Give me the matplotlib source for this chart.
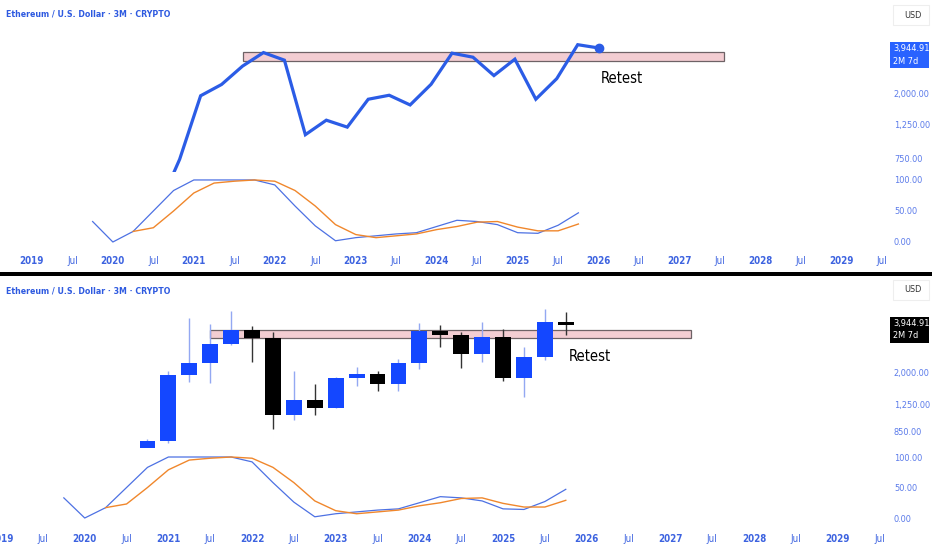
import matplotlib
matplotlib.use("Agg")
import matplotlib.pyplot as plt
from matplotlib.patches import Rectangle

plt.rcParams['font.family'] = ['DejaVu Sans']
plt.rcParams['font.stretch'] = 'condensed'

# quarterly ETH/USD (bar positions in decimal years, quarter starts)
q_price = [2020.5, 2020.75, 2021.0, 2021.25, 2021.5, 2021.75, 2022.0, 2022.25, 2022.5, 2022.75,
           2023.0, 2023.25, 2023.5, 2023.75, 2024.0, 2024.25, 2024.5, 2024.75, 2025.0, 2025.25,
           2025.5, 2025.75]
opens  = [226, 359, 737, 1919, 2275, 3000, 3680, 3282, 1067, 1328, 1196, 1821, 1934, 1671, 2281,
          3647, 3433, 2602, 3332, 1822, 2485, 4145]
highs  = [489, 755, 2040, 4380, 4030, 4870, 3880, 3580, 2030, 1680, 1860, 2140, 2030, 2410, 4090,
          3970, 3560, 4108, 3745, 2880, 4955, 4760]
lows   = [308, 368, 715, 1720, 1717, 2950, 2300, 880, 997, 1075, 1190, 1626, 1530, 1520, 2100,
          2865, 2110, 2310, 1755, 1385, 2370, 3430]
closes = [359, 737, 1919, 2275, 3000, 3680, 3282, 1067, 1328, 1196, 1821, 1934, 1671, 2281, 3647,
          3433, 2602, 3332, 1822, 2485, 4145, 3944.91]

# stochastic oscillator (%K from Q4 2019, %D from Q2 2020)
q_k = [2019.75 + 0.25 * i for i in range(25)]
k_vals = [33, 0, 17, 50, 83, 100, 100, 100, 100, 92, 58, 26, 2, 7, 10, 13, 15, 25, 35, 33, 28, 15,
          14, 27, 47]
q_d = q_k[2:]
d_vals = [17, 23, 50, 79, 95, 98, 100, 98, 83, 58, 28, 12, 7, 10, 13, 20, 25, 32, 33, 24, 18, 18, 29]

zone_lo, zone_hi = 3255, 3690
zone_x = (2021.5, 2027.25)

price_ticks = [[750, 1250, 2000], [850, 1250, 2000]]
price_labels = [["750.00", "1,250.00", "2,000.00"], ["850.00", "1,250.00", "2,000.00"]]
osc_ticks = [0, 50, 100]
osc_labels = ["0.00", "50.00", "100.00"]
title = "Ethereum / U.S. Dollar · 3M · CRYPTO"
last_label = ["3,944.91", "2M 7d"]

W, H = 932, 550
BLUE_LINE = "#2B5CE6"
UP = "#1447FF"
UP_WICK = "#93A8F2"
TXT_BLUE = "#2E5AE0"
AX_BLUE = "#5B7BEA"
K_COL = "#4D71E3"
D_COL = "#F0872C"

fig = plt.figure(figsize=(W / 100, H / 100), dpi=100)
fig.patch.set_facecolor("white")


def px_axes(x0, y0, x1, y1):
    return fig.add_axes([x0 / W, 1 - y1 / H, (x1 - x0) / W, (y1 - y0) / H])


def fig_rect(x0, y0, x1, y1, **kw):
    fig.patches.append(Rectangle((x0 / W, 1 - y1 / H), (x1 - x0) / W, (y1 - y0) / H,
                                 transform=fig.transFigure, figure=fig, **kw))


def clean(ax):
    for s in ax.spines.values():
        s.set_visible(False)
    ax.set_facecolor("none")
    ax.tick_params(length=0)


panes = [
    dict(off=0, price=(22, 172), plim=(608, 5836), osc=(175, 250), olim=(-12.9, 108),
         xlim=(2018.606, 2029.131), box="#2962FF", style="line", pad=4.5),
    dict(off=275, price=(300, 448), plim=(665, 5680), osc=(452, 526), olim=(-13.1, 108.2),
         xlim=(2018.987, 2029.53), box="#000000", style="candle", pad=5.5),
]

for i, p in enumerate(panes):
    axp = px_axes(0, p["price"][0], 882, p["price"][1])
    axo = px_axes(0, p["osc"][0], 882, p["osc"][1])
    for ax in (axp, axo):
        clean(ax)
        ax.set_xlim(*p["xlim"])
    axp.set_yscale("log")
    axp.set_ylim(*p["plim"])
    axo.set_ylim(*p["olim"])

    # resistance zone
    axp.add_patch(Rectangle((zone_x[0], zone_lo), zone_x[1] - zone_x[0], zone_hi - zone_lo,
                            facecolor="#F3CDD2", edgecolor="#6E6266", lw=0.9, zorder=1))

    if p["style"] == "line":
        axp.plot(q_price, closes, color=BLUE_LINE, lw=2.3, zorder=3, solid_joinstyle="miter")
        axp.plot(q_price[-1], closes[-1], "o", color=BLUE_LINE, ms=6, zorder=4)
    else:
        for x, o, h, l, c in zip(q_price, opens, highs, lows, closes):
            up = c >= o
            axp.vlines(x, l, h, color=UP_WICK if up else "#333333", lw=1.0, zorder=2)
            axp.bar(x, c - o, bottom=o, width=0.19, color=UP if up else "black", zorder=3)

    txt_y = 2508 if i == 0 else 2522
    axp.text(2025.77 if i == 0 else 2025.78, txt_y, "Retest", fontsize=10.5, color="black",
             va="center", ha="left", zorder=5)

    axo.plot(q_k, k_vals, color=K_COL, lw=0.9)
    axo.plot(q_d, d_vals, color=D_COL, lw=1.0)

    # right price scale
    axp.yaxis.tick_right()
    axp.set_yticks(price_ticks[i])
    axp.set_yticklabels(price_labels[i])
    axp.minorticks_off()
    axo.yaxis.tick_right()
    axo.set_yticks(osc_ticks)
    axo.set_yticklabels(osc_labels)
    for ax in (axp, axo):
        ax.tick_params(axis="y", pad=8.6, labelsize=6.6, labelcolor=AX_BLUE)

    # date scale
    axp.set_xticks([])
    xt = [2019 + 0.5 * j for j in range(22)]
    axo.set_xticks(xt)
    axo.set_xticklabels([str(int(v)) if v == int(v) else "Jul" for v in xt])
    axo.tick_params(axis="x", pad=p["pad"], labelsize=7, labelcolor="#3D63E0")
    for lab, v in zip(axo.get_xticklabels(), xt):
        if v == int(v):
            lab.set_fontweight("bold")

    off = p["off"]
    fig.text(6 / W, 1 - (14 + off + (2 if i else 0)) / H, title, fontsize=6.3, fontweight="bold",
             color=TXT_BLUE, ha="left", va="center")

    # USD box
    fig_rect(893, 5 + off, 929, 25 + off, facecolor="white", edgecolor="#EEEEEE", lw=0.8)
    fig.text(904 / W, 1 - (15 + off) / H, "USD", fontsize=6.6, color="#333333",
             ha="left", va="center")

    # last price label
    by = 42 + off if i == 0 else 317
    fig_rect(890, by, 929, by + 26, facecolor=p["box"], edgecolor="none")
    fig.text(893 / W, 1 - (by + 6.5) / H, last_label[0], fontsize=6.6, color="white",
             ha="left", va="center")
    fig.text(893 / W, 1 - (by + 19) / H, last_label[1], fontsize=6.6, color="white",
             ha="left", va="center")

# separator between the two charts
fig_rect(0, 272, W, 276, facecolor="black", edgecolor="none")

fig.savefig("out.png", dpi=100, facecolor="white")
